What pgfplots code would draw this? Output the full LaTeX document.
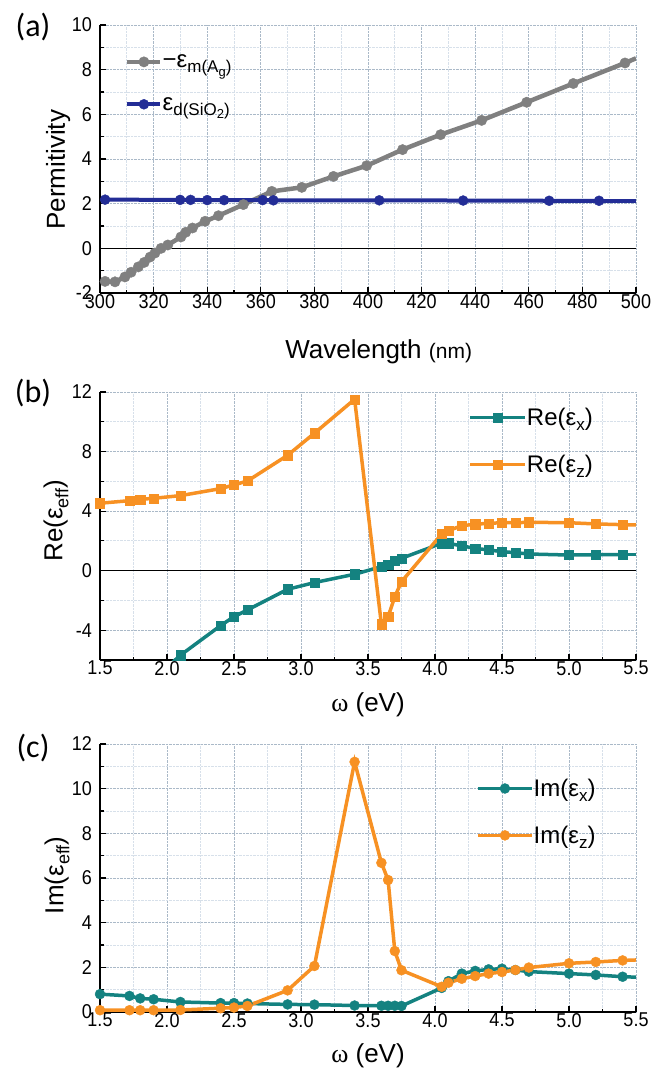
\documentclass[border=0pt]{standalone}
\usepackage{fontspec}
\setmainfont{Liberation Sans}
\newfontfamily\seriffont{Liberation Serif}
\newfontfamily\labfont{Carlito}
\newfontfamily\tickfont{Liberation Sans}[FakeStretch=0.9]
\usepackage{pgfplots}
\pgfplotsset{compat=1.18}

\definecolor{cgray}{RGB}{128,128,128}
\definecolor{cblue}{RGB}{35,45,150}
\definecolor{cteal}{RGB}{20,130,128}
\definecolor{corange}{RGB}{247,145,35}
\definecolor{gridmaj}{RGB}{170,185,200}
\definecolor{gridmin}{RGB}{215,224,234}

\newcommand\fs[1]{\fontsize{#1}{#1}\selectfont}
\newcommand\lsub[1]{\raisebox{-5pt}{\fs{17}#1}}
\newcommand\llsub[1]{\raisebox{-3.5pt}{\fs{13}#1}}
\newcommand\ysub[1]{\raisebox{-6pt}{\fs{18}#1}}

\pgfplotsset{
  myaxis/.style={
    scale only axis, width=536pt, height=268pt,
    axis lines*=left, axis line style={-, line width=1.5pt, black},
    tick align=inside, major tick length=6pt, minor tick length=3.5pt,
    every tick/.style={line width=1.2pt, black},
    minor x tick num=1, minor y tick num=1,
    grid=both,
    major grid style={densely dotted, line width=0.9pt, color=gridmaj},
    minor grid style={densely dotted, line width=0.9pt, color=gridmin},
    tick label style={font=\tickfont\fs{20}},
    /pgf/number format/assume math mode=true,
    xticklabel style={inner sep=1pt},
    yticklabel style={inner sep=2pt, xshift=-6pt},
    every axis y label/.style={rotate=90, anchor=center, font=\fs{26}},
    every axis x label/.style={anchor=center, font=\fs{26}},
    legend style={draw=none, fill=none, inner sep=0pt, font=\fs{24},
      row sep=28pt, nodes={inner sep=0pt},
      /tikz/every even column/.append style={column sep=4pt}},
    legend cell align=left,
    every axis plot/.append style={mark options={line width=0.4pt}},
  },
}

\begin{document}
\begin{tikzpicture}
\path[use as bounding box] (0,0) rectangle (652pt,-1071pt);

% ---------------- (a)
\begin{axis}[myaxis, at={(100pt,-25pt)}, anchor=north west,
  xmin=300, xmax=500, ymin=-2, ymax=10,
  xtick={300,320,...,500}, ytick={-2,0,...,10},
  xlabel={Wavelength {\fs{21}(nm)}},
  x label style={at={(axis description cs:0.52,-0.22)}},
  ylabel={Permitivity},
  y label style={at={(axis description cs:-0.078,0.46)}},
  legend style={at={(axis description cs:0.0466,0.89)}, anchor=north west},
  legend image code/.code={\draw[mark repeat=2,mark phase=2,#1] plot coordinates {(0pt,0pt)(16.5pt,0pt)(33pt,0pt)};},
]
\addplot[black, line width=1.3pt, forget plot] coordinates {(300,0) (500,0)};
\addplot[cgray, line width=4.5pt, mark=*, mark size=5.2pt] coordinates {
(301.9,-1.48) (305.6,-1.50) (309.3,-1.28) (311.6,-1.07) (314.3,-0.83)
(316.5,-0.63) (318.7,-0.39) (320.5,-0.21) (322.8,0.00) (325.3,0.15)
(330.2,0.51) (332.0,0.72) (334.5,0.91) (339.2,1.21) (344.2,1.46)
(353.5,1.96) (364.1,2.55) (375.3,2.73) (387.1,3.22) (399.5,3.70)
(412.9,4.42) (427.1,5.09) (442.4,5.73) (459.2,6.54) (476.6,7.38) (495.9,8.30)};
\addlegendentry{−ε\lsub{m(A\llsub{g})}}
\addplot[cgray, line width=4.5pt, forget plot] coordinates {(495.9,8.30) (500,8.51)};
\addplot[cblue, line width=4pt, mark=*, mark size=5pt] coordinates {
(301.9,2.18) (329.9,2.17) (333.8,2.17) (340.0,2.16) (346.3,2.16) (360.7,2.16)
(364.7,2.15) (404.2,2.15) (435.5,2.14) (467.6,2.13) (486.2,2.13)};
\addlegendentry{ε\lsub{d(SiO\llsub{2})}}
\addplot[cblue, line width=4pt, forget plot] coordinates {(486.2,2.13) (500,2.13)};
\end{axis}

% ---------------- (b)
\begin{axis}[myaxis, at={(100pt,-392pt)}, anchor=north west,
  xmin=1.5, xmax=5.5, ymin=-6, ymax=12,
  xtick={1.5,2,...,5.5}, ytick={-4,0,4,8,12},
  x tick label style={/pgf/number format/fixed, /pgf/number format/fixed zerofill, /pgf/number format/precision=1},
  xlabel={{\seriffont ω} (eV)},
  x label style={at={(axis description cs:0.5,-0.168)}},
  ylabel={Re(ε\ysub{eff})},
  y label style={at={(axis description cs:-0.082,0.52)}},
  legend style={at={(axis description cs:0.687,0.94)}, anchor=north west},
  legend image code/.code={\draw[mark repeat=2,mark phase=2,#1] plot coordinates {(0pt,0pt)(27.5pt,0pt)(55pt,0pt)};},
]
\addplot[black, line width=1.3pt, forget plot] coordinates {(1.5,0) (5.5,0)};
\addplot[cteal, line width=3.5pt, forget plot] coordinates {(1.89,-7.4) (2.1,-5.68)};
\addplot[cteal, line width=3.5pt, mark=square*, mark size=4.6pt] coordinates {
(2.1,-5.68) (2.4,-3.69) (2.5,-3.09) (2.6,-2.64) (2.9,-1.25) (3.1,-0.80)
(3.4,-0.24) (3.6,0.27) (3.65,0.38) (3.7,0.65) (3.75,0.83) (4.05,1.84)
(4.1,1.84) (4.2,1.66) (4.3,1.50) (4.4,1.39) (4.5,1.28) (4.6,1.21)
(4.7,1.12) (5.0,1.05) (5.2,1.07) (5.4,1.07)};
\addlegendentry{Re(ε\lsub{x})}
\addplot[cteal, line width=3.5pt, forget plot] coordinates {(5.4,1.07) (5.5,1.07)};
\addplot[corange, line width=3.5pt, mark=square*, mark size=4.6pt] coordinates {
(1.5,4.53) (1.72,4.70) (1.8,4.79) (1.9,4.86) (2.1,5.04) (2.4,5.51)
(2.5,5.76) (2.6,6.02) (2.9,7.75) (3.1,9.23) (3.4,11.51) (3.6,-3.60)
(3.65,-3.09) (3.7,-1.75) (3.75,-0.74) (4.05,2.46) (4.1,2.69) (4.2,3.02)
(4.3,3.12) (4.4,3.18) (4.5,3.22) (4.6,3.22) (4.7,3.25) (5.0,3.22)
(5.2,3.14) (5.4,3.09)};
\addlegendentry{Re(ε\lsub{z})}
\addplot[corange, line width=3.5pt, forget plot] coordinates {(5.4,3.09) (5.5,3.07)};
\end{axis}

% ---------------- (c)
\begin{axis}[myaxis, at={(100pt,-744pt)}, anchor=north west,
  xmin=1.5, xmax=5.5, ymin=0, ymax=12,
  xtick={1.5,2,...,5.5}, ytick={0,2,...,12},
  x tick label style={/pgf/number format/fixed, /pgf/number format/fixed zerofill, /pgf/number format/precision=1},
  xlabel={{\seriffont ω} (eV)},
  x label style={at={(axis description cs:0.5,-0.164)}},
  ylabel={Im(ε\ysub{eff})},
  y label style={at={(axis description cs:-0.080,0.51)}},
  legend style={at={(axis description cs:0.7015,0.87)}, anchor=north west},
  legend image code/.code={\draw[mark repeat=2,mark phase=2,#1] plot coordinates {(0pt,0pt)(27pt,0pt)(54pt,0pt)};},
]
\addplot[cteal, line width=3.5pt, mark=*, mark size=5pt] coordinates {
(1.5,0.80) (1.72,0.72) (1.8,0.61) (1.9,0.57) (2.1,0.45) (2.4,0.40)
(2.5,0.40) (2.6,0.38) (2.9,0.34) (3.1,0.33) (3.4,0.29) (3.6,0.28)
(3.65,0.28) (3.7,0.28) (3.75,0.27) (4.05,1.08) (4.1,1.38) (4.2,1.72)
(4.3,1.84) (4.4,1.91) (4.5,1.94) (4.6,1.88) (4.7,1.81) (5.0,1.72)
(5.2,1.66) (5.4,1.58)};
\addlegendentry{Im(ε\lsub{x})}
\addplot[cteal, line width=3.5pt, forget plot] coordinates {(5.4,1.58) (5.5,1.56)};
\addplot[corange, line width=3.5pt, mark=*, mark size=5pt] coordinates {
(1.5,0.08) (1.72,0.08) (1.8,0.08) (1.9,0.08) (2.1,0.09) (2.4,0.17)
(2.5,0.20) (2.6,0.27) (2.9,0.97) (3.1,2.06) (3.4,11.2) (3.6,6.68)
(3.65,5.91) (3.7,2.73) (3.75,1.87) (4.05,1.13) (4.1,1.31) (4.2,1.49)
(4.3,1.61) (4.4,1.72) (4.5,1.79) (4.6,1.88) (4.7,1.99) (5.0,2.18)
(5.2,2.24) (5.4,2.31)};
\addlegendentry{Im(ε\lsub{z})}
\addplot[corange, line width=3.5pt, forget plot] coordinates {(5.4,2.31) (5.5,2.33)};
\end{axis}

\node[font=\labfont\fs{32}] at (33pt,-27pt) {(a)};
\node[font=\labfont\fs{32}] at (33pt,-393pt) {(b)};
\node[font=\labfont\fs{32}] at (33pt,-748pt) {(c)};
\end{tikzpicture}
\end{document}
